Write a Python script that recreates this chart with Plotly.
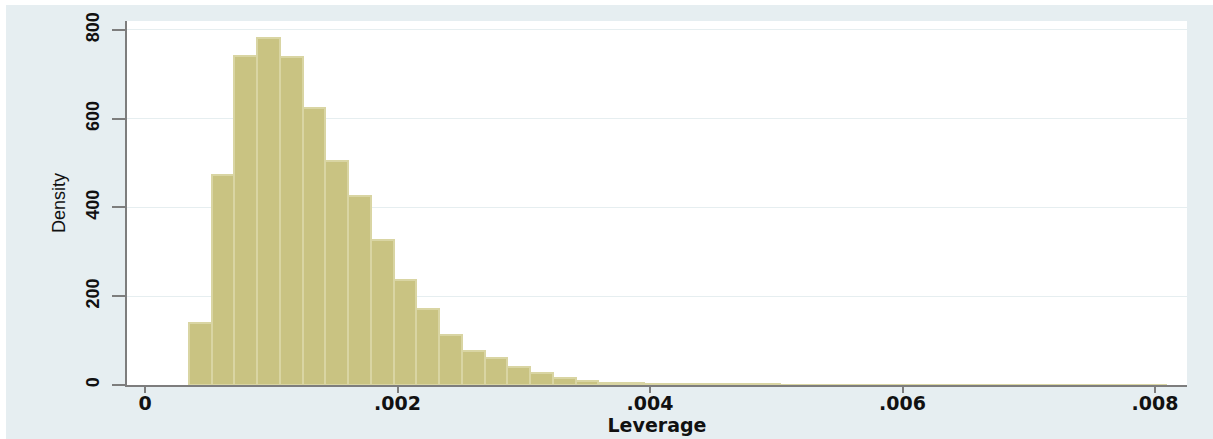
import plotly.graph_objects as go

# Histogram of leverage values (density scale)
bin_start = 0.000348
bin_width = 0.0001802
density = [139, 472, 742, 781, 738, 625, 505, 425, 326, 236, 171, 113, 77, 60,
           41, 26, 16.5, 9, 5, 3.5, 2.5, 2, 1.5, 1.5, 1.2, 1.2, 0, 1, 1, 1, 1,
           0, 0, 0, 1, 1, 0, 1, 0, 0, 0, 0, 1]

x_tickvals = [0, 0.002, 0.004, 0.006, 0.008]
x_ticktext = ["0", ".002", ".004", ".006", ".008"]
y_tickvals = [0, 200, 400, 600, 800]
y_ticktext = ["0", "200", "400", "600", "800"]

centers = [bin_start + (i + 0.5) * bin_width for i in range(len(density))]

W, H = 1213, 439
ML, MR, MT, MB = 127, 26, 21, 54
BG = "#e6eef1"
AXIS = "#7d7d7d"

fig = go.Figure(
    go.Bar(
        x=centers,
        y=density,
        width=bin_width,
        marker=dict(color="#c9c382", line=dict(color="#d9d5a3", width=2)),
        hoverinfo="skip",
    )
)

narrow = "Liberation Sans Narrow, Arial Narrow, Liberation Sans, Arial, sans-serif"
wide = "DejaVu Sans, Verdana, sans-serif"

fig.update_layout(
    template="none",
    width=W,
    height=H,
    autosize=False,
    margin=dict(l=ML, r=MR, t=MT, b=MB, pad=0, autoexpand=False),
    paper_bgcolor=BG,
    plot_bgcolor="white",
    showlegend=False,
    bargap=0,
    xaxis=dict(
        automargin=False,
        range=[-0.0001426, 0.0082535],
        tickvals=x_tickvals,
        ticktext=x_ticktext,
        ticks="outside",
        ticklen=6,
        tickwidth=2,
        tickcolor=AXIS,
        ticklabelstandoff=-6,
        showline=True,
        linecolor=AXIS,
        linewidth=2,
        showgrid=False,
        zeroline=False,
        tickfont=dict(family=wide, size=19, color="#111111", weight="bold"),
        title=dict(text="Leverage", standoff=2,
                   font=dict(family=wide, size=19, color="#111111", weight="bold")),
    ),
    yaxis=dict(
        automargin=False,
        range=[0, 820],
        tickvals=y_tickvals,
        ticktext=y_ticktext,
        tickangle=-90,
        ticks="outside",
        ticklen=13,
        tickwidth=2,
        tickcolor=AXIS,
        ticklabelstandoff=6,
        showline=True,
        linecolor=AXIS,
        linewidth=2,
        showgrid=True,
        gridcolor="#e6eef0",
        gridwidth=1,
        zeroline=False,
        tickfont=dict(family=narrow, size=18, color="#111111", weight="bold"),
        title=dict(text="Density", standoff=12,
                   font=dict(family=narrow, size=18, color="#111111")),
    ),
)

# thin white frame along the top and left edges of the page
pw = W - ML - MR
ph = H - MT - MB
fig.add_shape(type="rect", xref="paper", yref="paper", layer="above",
              x0=-ML / pw, x1=(W - ML) / pw,
              y0=1 + (MT - 5) / ph, y1=1 + MT / ph,
              fillcolor="white", line_width=0)
fig.add_shape(type="rect", xref="paper", yref="paper", layer="above",
              x0=-ML / pw, x1=(6 - ML) / pw,
              y0=-MB / ph, y1=1 + MT / ph,
              fillcolor="white", line_width=0)

fig.write_html("out.html")
